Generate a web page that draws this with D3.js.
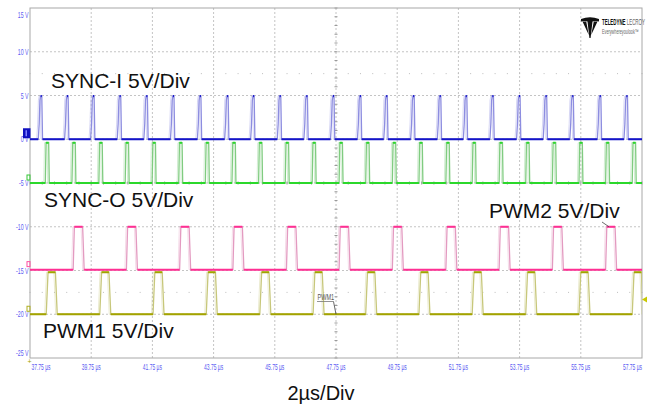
<!DOCTYPE html>
<html lang="en">
<head>
<meta charset="UTF-8">
<script src="https://d3js.org/d3.v7.min.js"></script>
<title>SYNC / PWM scope capture</title>
<style>
    html, body {
        margin: 0px;
        padding: 0px;
        background-color: #ffffff;
        font-family: "Liberation Sans", Arial, sans-serif;
    }
    #chart svg { display: block; }
</style>
</head>
<body>
<div id="chart"></div>
<script>
    // axis ticks (time in us, level in V)
    const xTicks = [37.75, 39.75, 41.75, 43.75, 45.75, 47.75, 49.75, 51.75, 53.75, 55.75, 57.75];
    const yTicks = [15, 10, 5, 0, -5, -10, -15, -20, -25];

    // pulse times (us)
    const syncIPeaks = [38.10, 38.96, 39.81, 40.68, 41.55, 42.42, 43.30, 44.19, 45.04, 45.91, 46.78, 47.65,
        48.53, 49.39, 50.27, 51.14, 51.99, 52.86, 53.73, 54.60, 55.47, 56.37, 57.24];
    const syncORises = [38.25, 39.12, 40.00, 40.86, 41.74, 42.61, 43.48, 44.35, 45.22, 46.09, 46.97, 47.85,
        48.72, 49.59, 50.46, 51.34, 52.20, 53.08, 53.95, 54.82, 55.69, 56.56, 57.43];
    const pwm2Rises = [39.16, 40.90, 42.64, 44.38, 46.13, 47.85, 49.59, 51.34, 53.08, 54.82, 56.56];
    const pwm1Rises = [38.28, 40.03, 41.77, 43.51, 45.26, 47.00, 48.72, 50.46, 52.20, 53.95, 55.69, 57.43];

    // low / high level of each trace on screen (V)
    const syncILevels = [0, 4.95];
    const syncOLevels = [-5, -0.4];
    const pwm2Levels = [-14.9, -10];
    const pwm1Levels = [-20, -15.2];

    const width = 648, height = 408;
    const plot = {left: 30, top: 8, right: 642, bottom: 358};

    const svg = d3.select('#chart').append('svg').attr('width', width).attr('height', height);

    const x = d3.scaleLinear().domain([37.75, 57.75]).range([plot.left, plot.right]);
    const y = d3.scaleLinear().domain([-25, 15]).range([plot.bottom, plot.top]);

    svg.append('clipPath').attr('id', 'clip')
        .append('rect')
        .attr('x', plot.left).attr('y', plot.top)
        .attr('width', plot.right - plot.left).attr('height', plot.bottom - plot.top);

    // grid
    const grid = svg.append('g');
    grid.selectAll('line.v')
        .data(xTicks.slice(1, -1))
        .join('line')
        .attr('x1', d => x(d)).attr('x2', d => x(d))
        .attr('y1', plot.top).attr('y2', plot.bottom)
        .attr('stroke', '#c4c4c4').attr('stroke-dasharray', '2,2');
    grid.selectAll('line.h')
        .data(yTicks.slice(1, -1))
        .join('line')
        .attr('x1', plot.left).attr('x2', plot.right)
        .attr('y1', d => y(d)).attr('y2', d => y(d))
        .attr('stroke', '#c4c4c4').attr('stroke-dasharray', '2,2');

    // minor marks on the centre axes
    const minorX = d3.range(0, 51).map(i => 37.75 + i * 0.4);
    const minorY = d3.range(0, 41).map(i => -25 + i);
    grid.selectAll('line.mx')
        .data(minorX)
        .join('line')
        .attr('x1', d => x(d)).attr('x2', d => x(d))
        .attr('y1', y(-5) - 1.5).attr('y2', y(-5) + 1.5)
        .attr('stroke', '#9a9a9a');
    grid.selectAll('line.my')
        .data(minorY)
        .join('line')
        .attr('x1', x(47.75) - 1.5).attr('x2', x(47.75) + 1.5)
        .attr('y1', d => y(d)).attr('y2', d => y(d))
        .attr('stroke', '#9a9a9a');
    // faint dot rows
    [7.5, -17.5].forEach(v => {
        grid.selectAll(null)
            .data(minorX)
            .join('line')
            .attr('x1', d => x(d) - 0.5).attr('x2', d => x(d) + 0.5)
            .attr('y1', y(v)).attr('y2', y(v))
            .attr('stroke', '#bdbdbd');
    });

    grid.append('rect')
        .attr('x', plot.left).attr('y', plot.top)
        .attr('width', plot.right - plot.left).attr('height', plot.bottom - plot.top)
        .attr('fill', 'none').attr('stroke', '#a8a8a8');

    // tick labels
    const tickColor = '#5c5cf2';
    svg.selectAll('text.ylab')
        .data(yTicks)
        .join('text')
        .attr('transform', d => {
            let cy = y(d);
            if (d === 15) cy = 15;
            if (d === -25) cy = 353;
            return `translate(28.5,${cy + 3}) scale(0.58,1)`;
        })
        .attr('text-anchor', 'end')
        .attr('font-size', 9)
        .attr('fill', tickColor)
        .text(d => d + ' V');

    svg.selectAll('text.xlab')
        .data(xTicks)
        .join('text')
        .attr('transform', (d, i) => {
            let px = x(d);
            if (i === 0) px = plot.left + 1.5;
            if (i === xTicks.length - 1) px = plot.right;
            return `translate(${px},370) scale(0.55,1)`;
        })
        .attr('text-anchor', (d, i) => i === 0 ? 'start' : (i === xTicks.length - 1 ? 'end' : 'middle'))
        .attr('font-size', 9)
        .attr('fill', tickColor)
        .text(d => d.toFixed(2) + ' µs');

    // traces
    function trace(times, levels, shape) {
        const pts = [[37.5, levels[0]]];
        times.forEach(t => {
            shape.forEach(s => pts.push([t + s[0], levels[0] + s[1] * (levels[1] - levels[0])]));
        });
        pts.push([58, levels[0]]);
        return pts;
    }
    // shape: [time offset, fraction of swing]
    const spikeShape = [[-0.08, 0], [-0.05, 0.35], [-0.025, 0.9], [0, 1], [0.035, 1], [0.06, 0]];
    const narrowShape = [[0, 0], [0.025, 1], [0.11, 1], [0.13, 0]];
    const pwm2Shape = [[0, 0], [0.04, 1], [0.31, 1], [0.36, 0]];
    const pwm1Shape = [[0, 0], [0.06, 1], [0.30, 1], [0.36, 0]];

    const channels = [
        {pts: trace(syncIPeaks, syncILevels, spikeShape), dark: '#1414c8', light: '#8d8de0'},
        {pts: trace(syncORises, syncOLevels, narrowShape), dark: '#2bd82b', light: '#80cc80'},
        {pts: trace(pwm2Rises, pwm2Levels, pwm2Shape), dark: '#ff2f93', light: '#e39ac0'},
        {pts: trace(pwm1Rises, pwm1Levels, pwm1Shape), dark: '#a3a300', light: '#c7c77a'}
    ];

    const line = d3.line().x(d => x(d[0])).y(d => y(d[1]));
    const traces = svg.append('g').attr('clip-path', 'url(#clip)');
    channels.forEach(ch => {
        // faint jitter edge
        traces.append('path')
            .attr('d', line(ch.pts.map(p => [p[0] - 0.05, p[1]])))
            .attr('fill', 'none').attr('stroke', ch.light)
            .attr('stroke-width', 1).attr('opacity', 0.35);
        traces.append('path')
            .attr('d', line(ch.pts))
            .attr('fill', 'none').attr('stroke', ch.light)
            .attr('stroke-width', 1.3);
        const flats = d3.pairs(ch.pts).filter(p => p[0][1] === p[1][1]);
        traces.selectAll(null)
            .data(flats)
            .join('line')
            .attr('x1', d => x(d[0][0])).attr('x2', d => x(d[1][0]))
            .attr('y1', d => y(d[0][1])).attr('y2', d => y(d[1][1]))
            .attr('stroke', ch.dark).attr('stroke-width', 2);
    });

    // channel markers
    svg.append('rect').attr('x', 23).attr('y', y(syncILevels[0]) - 11).attr('width', 7.5).attr('height', 10)
        .attr('fill', '#1010c0');
    svg.append('rect').attr('x', 25.5).attr('y', y(syncILevels[0]) - 9).attr('width', 1.5).attr('height', 6)
        .attr('fill', '#8080ff');
    [[syncOLevels[0], '#35c835'], [pwm2Levels[0], '#ff4fa0'], [pwm1Levels[0], '#b0b020']].forEach(m => {
        svg.append('rect').attr('x', 27).attr('y', y(m[0]) - 8).attr('width', 3).attr('height', 5)
            .attr('fill', 'none').attr('stroke', m[1]).attr('stroke-width', 1);
    });
    svg.append('path')
        .attr('d', `M${plot.right},${y(-18.3)} l5,-3 v6 z`)
        .attr('fill', '#c8c800');
    svg.append('text').attr('x', 27.5).attr('y', 364).attr('font-size', 7).attr('fill', '#a0a000').text('+');

    // channel labels
    const labels = [
        {text: 'SYNC-I 5V/Div', x: 51, y: 88},
        {text: 'SYNC-O 5V/Div', x: 44, y: 207},
        {text: 'PWM2 5V/Div', x: 489, y: 218},
        {text: 'PWM1 5V/Div', x: 43, y: 338}
    ];
    svg.selectAll('text.lab')
        .data(labels)
        .join('text')
        .attr('x', d => d.x).attr('y', d => d.y)
        .attr('font-size', 21)
        .attr('fill', '#111')
        .text(d => d.text);

    svg.append('text')
        .attr('x', 321).attr('y', 400)
        .attr('text-anchor', 'middle')
        .attr('font-size', 20)
        .attr('fill', '#111')
        .text('2µs/Div');

    // leader lines
    svg.append('line')
        .attr('x1', 602).attr('y1', 222)
        .attr('x2', x(56.67)).attr('y2', y(pwm2Levels[1]))
        .attr('stroke', '#444').attr('stroke-width', 0.8);

    svg.append('text')
        .attr('transform', 'translate(317.5,299.5) scale(0.62,1)')
        .attr('font-size', 9).attr('fill', '#555')
        .text('PWM1');
    svg.append('line').attr('x1', 317).attr('x2', 333.5).attr('y1', 301.5).attr('y2', 301.5)
        .attr('stroke', '#777').attr('stroke-width', 0.8);
    svg.append('line')
        .attr('x1', 333.5).attr('y1', 301.5)
        .attr('x2', x(47.75)).attr('y2', y(pwm1Levels[0]))
        .attr('stroke', '#444').attr('stroke-width', 0.8);

    // Teledyne LeCroy logo
    const logo = svg.append('g').attr('transform', 'translate(581,17)');
    logo.append('path')
        .attr('d', 'M0,2 Q9,-1.5 18,2 L18,4.5 Q14,3.5 11.5,4.5 L9.6,21 L8.4,21 L6.5,4.5 Q4,3.5 0,4.5 Z')
        .attr('fill', '#111');
    logo.append('path').attr('d', 'M1.5,4.5 L5.2,4.5 L7.8,18 Z').attr('fill', '#111');
    logo.append('path').attr('d', 'M16.5,4.5 L12.8,4.5 L10.2,18 Z').attr('fill', '#111');
    logo.append('text')
        .attr('transform', 'translate(21,7.5) scale(0.52,1)')
        .attr('font-size', 8.5).attr('font-weight', 'bold').attr('fill', '#111')
        .text('TELEDYNE')
        .append('tspan').attr('font-weight', 'normal').attr('fill', '#666').text(' LECROY');
    logo.append('text')
        .attr('transform', 'translate(21,16.5) scale(0.58,1)')
        .attr('font-size', 6.5).attr('fill', '#666')
        .text('Everywhereyoulook™');
</script>
</body>
</html>
